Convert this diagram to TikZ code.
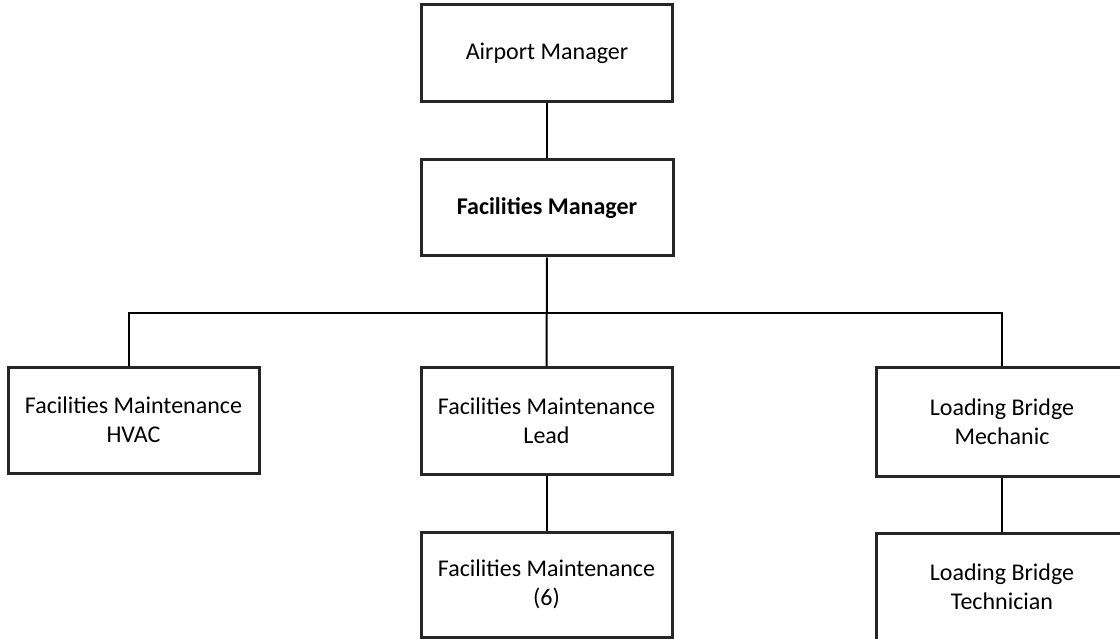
\documentclass[tikz,border=0pt]{standalone}
\usepackage{fontspec}
\setmainfont{Carlito}
\begin{document}
\begin{tikzpicture}[x=1pt,y=-1pt,
  orgbox/.style={draw=black!85,line width=3pt,fill=white,rectangle,inner sep=0pt,
    align=center,font=\fontsize{24}{29}\selectfont},
  link/.style={draw=black,line width=2pt}]
\useasboundingbox (0,0) rectangle (1120,639);
\fill[white] (0,0) rectangle (1120,639);
\begin{scope}
\clip (0,0) rectangle (1120,639);
\node[orgbox,minimum width=251pt,minimum height=97pt] (am) at (547,53.5) {Airport Manager};
\node[orgbox,minimum width=252pt,minimum height=96pt] (fm) at (547,208) {\textbf{Facilities Manager}};
\node[orgbox,minimum width=251pt,minimum height=106pt] (hvac) at (133.5,420) {Facilities Maintenance\\HVAC};
\node[orgbox,minimum width=251pt,minimum height=107pt] (lead) at (546.5,421) {Facilities Maintenance\\Lead};
\node[orgbox,minimum width=252pt,minimum height=109pt] (mech) at (1002,421.5) {Loading Bridge\\Mechanic};
\node[orgbox,minimum width=251pt,minimum height=105pt] (fm6) at (546.5,584.5) {Facilities Maintenance\\(6)};
\node[orgbox,minimum width=252pt,minimum height=108pt] (tech) at (1002,587) {Loading Bridge\\Technician};
\coordinate (bus) at (547,313);
\coordinate (hvactop) at ([xshift=-4.5pt]hvac.north);
\draw[link] (am.south) -- (fm.north);
\draw[link] (fm.south) -- (lead.north);
\draw[link] (hvactop) -- (hvactop |- bus) -- (mech.north |- bus) -- (mech.north);
\draw[link] (lead.south) -- (fm6.north);
\draw[link] (mech.south) -- (tech.north);
\end{scope}
\end{tikzpicture}
\end{document}
